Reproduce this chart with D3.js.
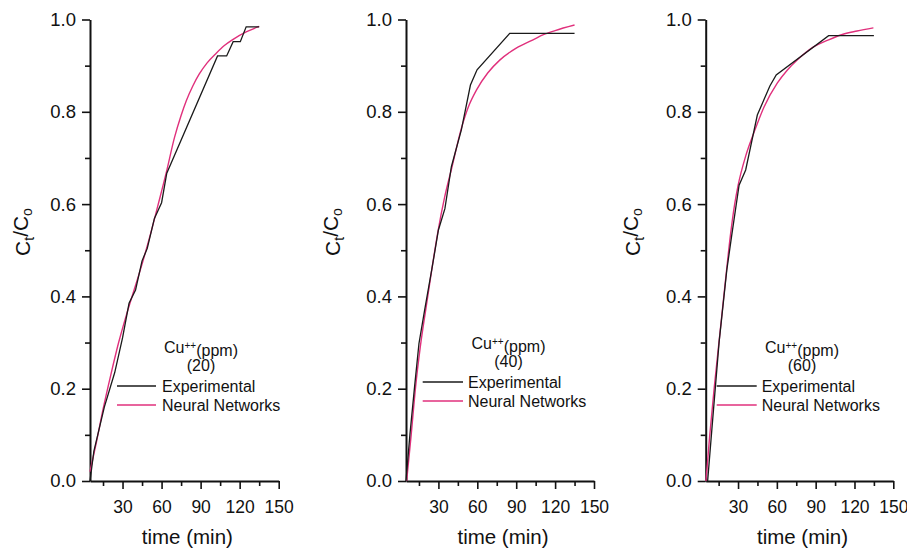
<!DOCTYPE html>
<html>
<head>
<meta charset="utf-8">
<script src="https://cdn.jsdelivr.net/npm/d3@7"></script>
<style>
  body { margin: 0; background: #fff; }
  svg { display: block; font-family: "Liberation Sans", Arial, sans-serif; }
  .axis path, .axis line { stroke: #111; }
  .axis text { fill: #111; font-size: 17.5px; }
  .yaxis text { font-size: 18.5px; }
</style>
</head>
<body>
<div id="chart"></div>
<script>
var width = 907, height = 548

// tick values
var yMajor = [0, 0.2, 0.4, 0.6, 0.8, 1.0]
var yMinor = [0.1, 0.3, 0.5, 0.7, 0.9]
var xMajor = [30, 60, 90, 120, 150]
var xMinor = [15, 45, 75, 105, 135]

var concentrations = ["20", "40", "60"]
var seriesNames = ["Experimental", "Neural Networks"]

// [time (min), Ct/Co]
var exp20 = [[5,0],[8,0.065],[16,0.16],[24,0.235],[30,0.31],[35,0.385],[40,0.414],[45,0.477],[49,0.504],[54.5,0.569],[60,0.603],[64,0.667],[103,0.921],[110,0.921],[115,0.952],[120.5,0.952],[125,0.984],[135,0.984]]
var nn20 = [[5,0.02],[10,0.085],[15,0.155],[21,0.23],[27,0.3],[33,0.36],[39,0.415],[45,0.47],[51,0.53],[57,0.595],[63.5,0.667],[70,0.745],[75,0.792],[79,0.824],[84,0.856],[89,0.882],[95,0.906],[102,0.927],[108,0.943],[115,0.957],[125,0.973],[135,0.985]]

var exp40 = [[5,0],[8,0.1],[11.6,0.204],[15,0.298],[19.4,0.371],[25,0.46],[30,0.544],[35,0.59],[40,0.681],[47.7,0.761],[54.7,0.858],[59.8,0.891],[85,0.97],[135,0.97]]
var nn40 = [[5.5,0],[9,0.1],[12.4,0.204],[16,0.29],[20.7,0.38],[25,0.46],[29.6,0.54],[34.8,0.615],[40,0.675],[47.7,0.764],[53,0.81],[59.3,0.847],[68,0.884],[77.3,0.912],[90,0.938],[103,0.956],[111,0.967],[120,0.976],[135,0.988]]

var exp60 = [[6.5,0],[10,0.12],[15.4,0.302],[21.3,0.457],[25,0.53],[30.8,0.641],[35.9,0.674],[44.9,0.793],[54.6,0.856],[59.5,0.88],[100,0.965],[135,0.965]]
var nn60 = [[5.2,0],[8,0.095],[11.5,0.2],[16,0.32],[20.5,0.44],[24,0.53],[27.4,0.6],[30,0.64],[36,0.705],[42.3,0.755],[50,0.81],[60.3,0.862],[68,0.89],[75.7,0.912],[88,0.94],[100,0.956],[110,0.967],[122,0.975],[134.6,0.982]]

var expData = [exp20, exp40, exp60]
var nnData = [nn20, nn40, nn60]

var colors = ["#1a1a1a", "#e0307c"]

// panel placement on the page
var panels = [
  { x0: 90,    x1: 278.7, labX: 30,  legY: 353, lineX0: 117,   lineX1: 156,   textX: 162,   capX: 201 },
  { x0: 406,   x1: 594,   labX: 340, legY: 349, lineX0: 422.7, lineX1: 463,   textX: 468,   capX: 508.5 },
  { x0: 705.7, x1: 893.3, labX: 640, legY: 353, lineX0: 716.7, lineX1: 756.7, textX: 761.7, capX: 802 }
]
var yTop = 19.5, yBottom = 481

var svg = d3.select("#chart")
  .append("svg")
    .attr("width", width)
    .attr("height", height)

var y = d3.scaleLinear()
  .domain([0, 1])
  .range([yBottom, yTop])

panels.forEach(function(p, i) {
  var x = d3.scaleLinear()
    .domain([5, 150])
    .range([p.x0, p.x1])

  var g = svg.append("g")

  // minor ticks first, then major ticks with the axis line
  g.append("g")
    .attr("class", "axis")
    .attr("transform", `translate(${p.x0},0)`)
    .call(d3.axisLeft(y).tickValues(yMinor).tickSize(5).tickSizeOuter(0).tickFormat(""))
    .call(s => s.select(".domain").remove())
    .selectAll("line").attr("stroke-width", 1.6)

  var ya = g.append("g")
    .attr("class", "axis yaxis")
    .attr("transform", `translate(${p.x0},0)`)
    .call(d3.axisLeft(y).tickValues(yMajor).tickSize(8).tickSizeOuter(0).tickPadding(6).tickFormat(d3.format(".1f")))
  ya.select(".domain").attr("stroke-width", 2)
  ya.selectAll("line").attr("stroke-width", 1.6)

  g.append("g")
    .attr("class", "axis")
    .attr("transform", `translate(0,${yBottom})`)
    .call(d3.axisBottom(x).tickValues(xMinor).tickSize(5).tickSizeOuter(0).tickFormat(""))
    .call(s => s.select(".domain").remove())
    .selectAll("line").attr("stroke-width", 1.6)

  var xa = g.append("g")
    .attr("class", "axis")
    .attr("transform", `translate(0,${yBottom})`)
    .call(d3.axisBottom(x).tickValues(xMajor).tickSize(8).tickSizeOuter(0).tickPadding(12))
  xa.select(".domain").attr("stroke-width", 2)
  xa.selectAll("line").attr("stroke-width", 1.6)

  // axis titles
  g.append("text")
    .attr("x", (p.x0 + p.x1) / 2 + 3)
    .attr("y", 544)
    .attr("text-anchor", "middle")
    .style("font-size", "20.5px")
    .style("fill", "#111")
    .text("time (min)")

  var yl = g.append("text")
    .attr("transform", `translate(${p.labX},232) rotate(-90)`)
    .attr("text-anchor", "middle")
    .style("font-size", "21px")
    .style("fill", "#111")
  yl.append("tspan").text("C")
  yl.append("tspan").attr("dy", "0.3em").style("font-size", "14px").text("t")
  yl.append("tspan").attr("dy", "-0.3em").text("/C")
  yl.append("tspan").attr("dy", "0.3em").style("font-size", "14px").text("o")

  // curves
  var line = d3.line()
    .x(d => x(d[0]))
    .y(d => y(d[1]))

  g.append("path")
    .datum(nnData[i])
    .attr("fill", "none")
    .attr("stroke", colors[1])
    .attr("stroke-width", 1.4)
    .attr("d", line.curve(d3.curveMonotoneX))

  g.append("path")
    .datum(expData[i])
    .attr("fill", "none")
    .attr("stroke", colors[0])
    .attr("stroke-width", 1.3)
    .attr("d", line.curve(d3.curveLinear))

  // legend
  var cap = g.append("text")
    .attr("x", p.capX)
    .attr("y", p.legY)
    .attr("text-anchor", "middle")
    .style("font-size", "16px")
    .style("fill", "#111")
  cap.append("tspan").text("Cu")
  cap.append("tspan").attr("dy", "-0.45em").style("font-size", "10px").text("++")
  cap.append("tspan").attr("dy", "0.45em").text("(ppm)")

  g.append("text")
    .attr("x", p.capX)
    .attr("y", p.legY + 18)
    .attr("text-anchor", "middle")
    .style("font-size", "16px")
    .style("fill", "#111")
    .text("(" + concentrations[i] + ")")

  seriesNames.forEach(function(name, k) {
    g.append("line")
      .attr("x1", p.lineX0)
      .attr("x2", p.lineX1)
      .attr("y1", p.legY + 33 + k * 19)
      .attr("y2", p.legY + 33 + k * 19)
      .attr("stroke", colors[k])
      .attr("stroke-width", 1.4)
    g.append("text")
      .attr("x", p.textX)
      .attr("y", p.legY + 38.5 + k * 19)
      .style("font-size", "16px")
      .style("fill", "#111")
      .text(name)
  })
})
</script>
</body>
</html>
